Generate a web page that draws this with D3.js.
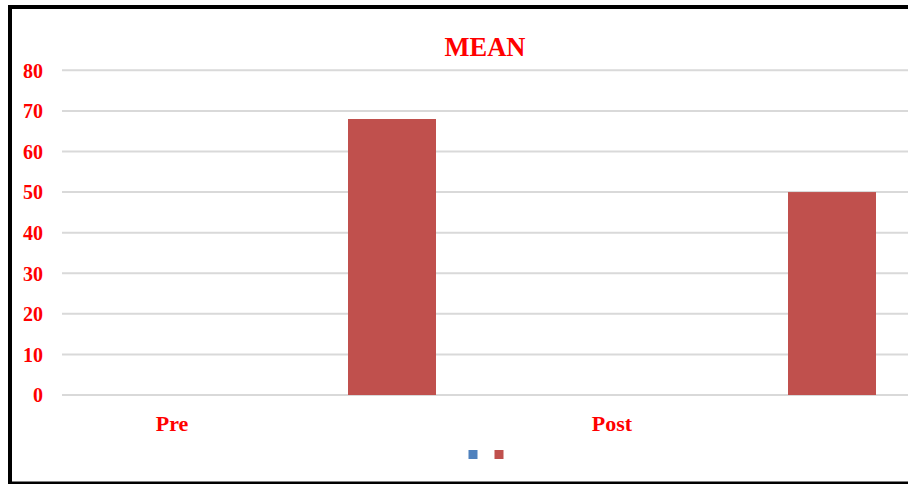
<!DOCTYPE html>
<html>
<head>
<meta charset="utf-8">
<script src="https://cdn.jsdelivr.net/npm/d3@7"></script>
<style>
  body { margin: 0; background: #fff; overflow: hidden; }
  svg { display: block; }
  .chart text { font-family: "Liberation Serif", "Times New Roman", serif; font-weight: bold; fill: #ff0000; }
</style>
</head>
<body>
<svg id="chart" width="908" height="484"></svg>
<script>
// data
const categories = ['Pre', '', 'Post', ''];
const blueValues = [0, null, 0, null];
const redValues = [null, 68, null, 50];
const yTicks = [0, 10, 20, 30, 40, 50, 60, 70, 80];
const title = 'MEAN';

const width = 908;
const height = 484;
const plotLeft = 62;
const plotRight = 942; // chart is cropped on the right
const plotTop = 70.3;
const plotBottom = 395;

let svg = d3.select('#chart');
svg.selectAll('*').remove();
svg = svg.append('g').attr('class', 'chart');

// background
svg.append('rect')
  .attr('width', width)
  .attr('height', height)
  .attr('fill', '#fff');

const x = d3.scaleBand()
  .domain(d3.range(categories.length))
  .range([plotLeft, plotRight])
  .paddingInner(0.6)
  .paddingOuter(0.3);

const y = d3.scaleLinear()
  .domain([0, 80])
  .range([plotBottom, plotTop]);

// gridlines
svg.selectAll('line.grid')
  .data(yTicks)
  .enter()
  .append('line')
  .attr('class', 'grid')
  .attr('x1', plotLeft)
  .attr('x2', width)
  .attr('y1', d => y(d))
  .attr('y2', d => y(d))
  .attr('stroke', '#d9d9d9')
  .attr('stroke-width', 2);

// y axis labels
const yAxis = svg.append('g')
  .attr('transform', `translate(${plotLeft},0)`)
  .call(d3.axisLeft(y).tickValues(yTicks).tickSize(0).tickPadding(19));
yAxis.select('.domain').remove();
yAxis.selectAll('.tick text').attr('font-size', 20).attr('dy', '0.34em');

// x axis labels
const xAxis = svg.append('g')
  .attr('transform', `translate(0,${plotBottom})`)
  .call(d3.axisBottom(x).tickSize(0).tickFormat(i => categories[i]));
xAxis.select('.domain').remove();
xAxis.selectAll('.tick text').attr('font-size', 22).attr('dy', 0).attr('y', 36);

// bars
const series = [
  { values: blueValues, color: '#4f81bd' },
  { values: redValues, color: '#c0504d' }
];
series.forEach(s => {
  svg.selectAll(null)
    .data(s.values.map((v, i) => ({ v, i })).filter(d => d.v !== null))
    .enter()
    .append('rect')
    .attr('x', d => x(d.i))
    .attr('y', d => y(d.v))
    .attr('width', x.bandwidth())
    .attr('height', d => y(0) - y(d.v))
    .attr('fill', s.color);
});

// title
svg.append('text')
  .attr('x', 485)
  .attr('y', 56)
  .attr('text-anchor', 'middle')
  .attr('font-size', 26.5)
  .text(title);

// legend (no series names)
const legend = svg.append('g');
legend.selectAll('rect')
  .data(series)
  .enter()
  .append('rect')
  .attr('x', (d, i) => 468.5 + i * 26)
  .attr('y', 450)
  .attr('width', 9)
  .attr('height', 9)
  .attr('fill', d => d.color);

// frame: top, left, bottom only (right side is cropped away)
svg.append('path')
  .attr('d', `M${width},7 H10 V484`)
  .attr('fill', 'none')
  .attr('stroke', '#000')
  .attr('stroke-width', 4);
svg.append('line')
  .attr('x1', 10)
  .attr('x2', width)
  .attr('y1', 483)
  .attr('y2', 483)
  .attr('stroke', '#000')
  .attr('stroke-width', 3);
</script>
</body>
</html>
